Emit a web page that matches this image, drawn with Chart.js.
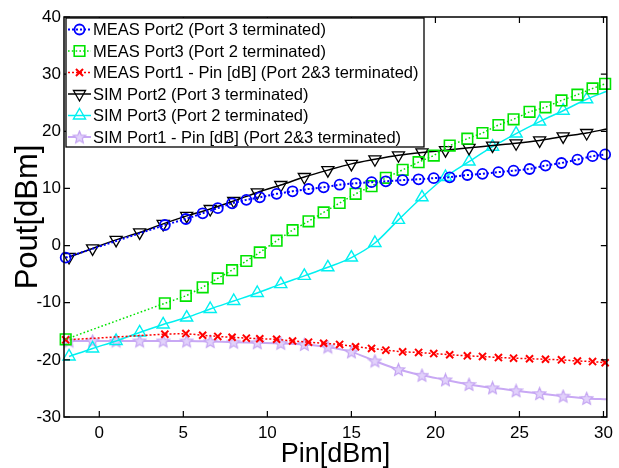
<!DOCTYPE html>
<html>
<head>
<meta charset="utf-8">
<title>Pout vs Pin</title>
<script src="https://cdn.jsdelivr.net/npm/chart.js@4.4.1/dist/chart.umd.min.js"></script>
<style>
    html, body { margin: 0; padding: 0; background: #ffffff; }
    #wrap { width: 619px; height: 468px; }
</style>
</head>
<body>
<div id="wrap"><canvas id="powerChart" width="619" height="468"></canvas></div>
<script>
/**
 * Measured curves (Pin in dBm)
 */
const measPin = [-2, 3.9, 5.15, 6.15, 7.05, 7.9, 8.75, 9.55, 10.55, 11.5, 12.45, 13.35, 14.3, 15.25, 16.2,
    17.05, 18.05, 19.0, 19.9, 20.85, 21.9, 22.8, 23.75, 24.65, 25.6, 26.55, 27.5, 28.45, 29.35, 30.1];
const measPort2 = [-2.1, 3.6, 4.65, 5.65, 6.55, 7.4, 8.0, 8.45, 9.05, 9.5, 9.9, 10.2, 10.65, 10.9, 11.1,
    11.25, 11.45, 11.6, 11.8, 11.95, 12.35, 12.55, 12.85, 13.1, 13.4, 14.0, 14.45, 15.05, 15.65, 15.95];
const measPort3 = [-16.4, -10.1, -8.8, -7.3, -5.75, -4.3, -2.7, -1.2, 0.85, 2.7, 4.25, 5.8, 7.45, 9.05, 10.4,
    11.85, 13.25, 14.6, 15.75, 17.5, 18.7, 19.7, 21.1, 22.1, 23.4, 24.2, 25.4, 26.4, 27.5, 28.3];
const measPort1 = [-16.5, -15.5, -15.4, -15.7, -15.9, -16.05, -16.2, -16.3, -16.4, -16.7, -16.9, -17.1, -17.3, -17.7, -18.0,
    -18.3, -18.6, -18.7, -18.9, -19.1, -19.3, -19.4, -19.6, -19.7, -19.8, -19.9, -20.0, -20.2, -20.3, -20.5];

/**
 * Simulated curves (last point is the curve end, no marker)
 */
const simPin = [-1.8, -0.4, 1.0, 2.4, 3.8, 5.2, 6.6, 8.0, 9.4, 10.8, 12.2, 13.6, 15.0, 16.4, 17.8, 19.2,
    20.6, 22.0, 23.4, 24.8, 26.2, 27.6, 29.0, 30.2];
const simPort2 = [-2.0, -0.5, 1.0, 2.3, 3.8, 5.2, 6.4, 7.8, 9.3, 10.6, 12.0, 13.2, 14.3, 15.1, 15.8, 16.3,
    16.7, 17.1, 17.5, 17.9, 18.4, 19.1, 19.7, 20.4];
const simPort3 = [-19.4, -18.0, -16.7, -15.2, -13.8, -12.6, -11.1, -9.7, -8.3, -6.75, -5.3, -3.8, -2.1, 0.45, 4.5, 8.45,
    12.0, 14.7, 17.3, 19.6, 21.7, 23.6, 25.6, 27.0];
const simPort1 = [-16.7, -16.7, -16.7, -16.7, -16.7, -16.7, -16.8, -16.9, -17.0, -17.1, -17.3, -17.75, -18.6, -20.2, -21.7, -22.7,
    -23.5, -24.3, -24.9, -25.4, -25.9, -26.35, -26.75, -26.9];

const xTicks = [0, 5, 10, 15, 20, 25, 30];
const yTicks = [-30, -20, -10, 0, 10, 20, 30, 40];

const FONT = "'Liberation Sans', Arial, Helvetica, sans-serif";

// five point star marker (Chart.js 'star' is an asterisk)
function makeStar(size, stroke, fill) {
    const c = document.createElement('canvas');
    c.width = size;
    c.height = size;
    const g = c.getContext('2d');
    const cx = size / 2, cy = size / 2 + 0.5;
    const R = size / 2 - 1, r = R * 0.45;
    g.beginPath();
    for (let i = 0; i < 10; i++) {
        const a = -Math.PI / 2 + i * Math.PI / 5;
        const rad = i % 2 ? r : R;
        g.lineTo(cx + rad * Math.cos(a), cy + rad * Math.sin(a));
    }
    g.closePath();
    g.fillStyle = fill;
    g.fill();
    g.strokeStyle = stroke;
    g.lineWidth = 1.2;
    g.stroke();
    return c;
}

const starImg = makeStar(15, '#c4a4f2', '#e2d2fb');

function series(label, xs, ys, color, opts) {
    return Object.assign({
        label: label,
        data: xs.map((x, i) => ({ x: x, y: ys[i] })),
        borderColor: color,
        pointBorderColor: color,
        pointBackgroundColor: 'rgba(0,0,0,0)',
        borderWidth: 1.5,
        clip: false,
        tension: 0
    }, opts);
}

// simulated curves: marker on every point except the curve end
function simRadius(r) {
    return simPin.map((v, i) => (i === simPin.length - 1 ? 0 : r));
}

const datasets = [
    series('MEAS Port2 (Port 3 terminated)', measPin, measPort2, '#0000ff', {
        borderDash: [2, 2], borderWidth: 2, pointStyle: 'circle', pointRadius: 5, pointBorderWidth: 1.8
    }),
    series('MEAS Port3 (Port 2 terminated)', measPin, measPort3, '#00e400', {
        borderDash: [1.6, 2.2], pointStyle: 'rect', pointRadius: 7.5, pointBorderWidth: 1.6
    }),
    series('MEAS Port1 - Pin [dB] (Port 2&3 terminated)', measPin, measPort1, '#ff0000', {
        borderDash: [2, 2], pointStyle: 'crossRot', pointRadius: 5, pointBorderWidth: 2
    }),
    series('SIM Port2 (Port 3 terminated)', simPin, simPort2, '#000000', {
        pointStyle: 'triangle', pointRotation: 180, pointRadius: simRadius(7), pointBorderWidth: 1.3,
        cubicInterpolationMode: 'monotone'
    }),
    series('SIM Port3 (Port 2 terminated)', simPin, simPort3, '#00f0f0', {
        pointStyle: 'triangle', pointRadius: simRadius(7), pointBorderWidth: 1.4,
        cubicInterpolationMode: 'monotone'
    }),
    series('SIM Port1 - Pin [dB] (Port 2&3 terminated)', simPin, simPort1, '#c8a8f4', {
        borderWidth: 2, pointStyle: starImg, pointRadius: simRadius(7), pointBorderWidth: 1,
        cubicInterpolationMode: 'monotone'
    })
];

/**
 * Axes box with inward ticks on all four sides
 */
const axesBox = {
    id: 'axesBox',
    afterDatasetsDraw(chart) {
        const { ctx, chartArea: a, scales } = chart;
        ctx.save();
        ctx.strokeStyle = '#000';
        ctx.lineWidth = 1.5;
        ctx.setLineDash([]);
        ctx.strokeRect(a.left, a.top, a.right - a.left, a.bottom - a.top);
        ctx.lineWidth = 1.2;
        ctx.beginPath();
        xTicks.forEach(v => {
            const px = scales.x.getPixelForValue(v);
            ctx.moveTo(px, a.bottom); ctx.lineTo(px, a.bottom - 6);
            ctx.moveTo(px, a.top); ctx.lineTo(px, a.top + 6);
        });
        yTicks.forEach(v => {
            const py = scales.y.getPixelForValue(v);
            ctx.moveTo(a.left, py); ctx.lineTo(a.left + 6, py);
            ctx.moveTo(a.right, py); ctx.lineTo(a.right - 6, py);
        });
        ctx.stroke();
        ctx.restore();
    }
};

/**
 * Boxed legend in the upper left corner of the plot
 */
const boxLegend = {
    id: 'boxLegend',
    afterDraw(chart) {
        const ctx = chart.ctx;
        const x0 = 66, y0 = 18, w = 358, h = 129;
        ctx.save();
        ctx.fillStyle = '#fff';
        ctx.fillRect(x0, y0, w, h);
        ctx.strokeStyle = '#000';
        ctx.lineWidth = 1.3;
        ctx.strokeRect(x0, y0, w, h);
        chart.data.datasets.forEach((ds, i) => {
            const y = 29.5 + i * 21.5;
            ctx.setLineDash(ds.borderDash || []);
            ctx.strokeStyle = ds.borderColor;
            ctx.lineWidth = ds.borderWidth;
            ctx.beginPath();
            ctx.moveTo(68, y);
            ctx.lineTo(91, y);
            ctx.stroke();
            ctx.setLineDash([]);
            ctx.lineWidth = ds.pointBorderWidth;
            ctx.strokeStyle = ds.pointBorderColor;
            ctx.fillStyle = ds.pointBackgroundColor;
            const r = Array.isArray(ds.pointRadius) ? ds.pointRadius[0] : ds.pointRadius;
            Chart.helpers.drawPoint(ctx, {
                pointStyle: ds.pointStyle,
                radius: r,
                rotation: ds.pointRotation || 0,
                borderWidth: ds.pointBorderWidth
            }, 79.5, y);
            ctx.fillStyle = '#000';
            ctx.font = '16.5px ' + FONT;
            ctx.textBaseline = 'middle';
            ctx.textAlign = 'left';
            ctx.fillText(ds.label, 93, y + 1);
        });
        ctx.restore();
    }
};

new Chart(document.getElementById('powerChart'), {
    type: 'line',
    data: { datasets: datasets },
    options: {
        responsive: false,
        animation: false,
        devicePixelRatio: 1,
        layout: { padding: { top: 17, right: 11, bottom: 0, left: 0 } },
        plugins: {
            legend: { display: false },
            tooltip: { enabled: false }
        },
        scales: {
            x: {
                type: 'linear',
                min: -2.1,
                max: 30.2,
                afterBuildTicks: s => { s.ticks = xTicks.map(v => ({ value: v })); },
                afterFit: s => { s.height = 51; },
                grid: { display: false, drawTicks: false },
                border: { display: false },
                ticks: {
                    color: '#000', padding: 6, maxRotation: 0, autoSkip: false,
                    font: { size: 17, family: FONT }
                },
                title: {
                    display: true, text: 'Pin[dBm]', color: '#000',
                    font: { size: 27, family: FONT, lineHeight: 1 },
                    padding: { top: 0, bottom: 0 }
                }
            },
            y: {
                type: 'linear',
                min: -30,
                max: 40,
                afterBuildTicks: s => { s.ticks = yTicks.map(v => ({ value: v })); },
                afterFit: s => { s.width = 64; },
                grid: { display: false, drawTicks: false },
                border: { display: false },
                ticks: {
                    color: '#000', padding: 3, autoSkip: false,
                    font: { size: 17, family: FONT }
                },
                title: {
                    display: true, text: 'Pout[dBm]', color: '#000',
                    font: { size: 31, family: FONT, lineHeight: 1.2 },
                    padding: { top: 10, bottom: 0 }
                }
            }
        }
    },
    plugins: [axesBox, boxLegend]
});
</script>
</body>
</html>
